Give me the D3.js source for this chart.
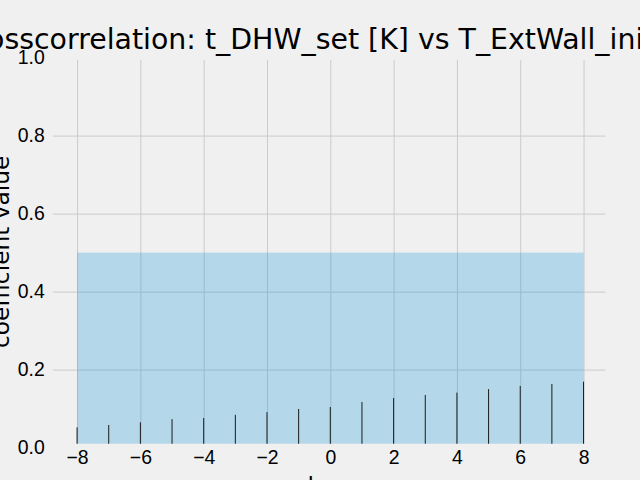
<!DOCTYPE html>
<html lang="en">
<head>
    <meta charset="UTF-8">
    <title>Crosscorrelation</title>
    <style>
        body {
            margin: 0;
            background: #f0f0f0;
            overflow: hidden;
        }
        svg {
            display: block;
            font-family: "DejaVu Sans", sans-serif;
        }
        .grid line {
            stroke: #cbcbcb;
            stroke-width: 1;
        }
        .grid path, .axis path, .axis line {
            display: none;
        }
        .axis text {
            font-size: 19.4px;
            fill: #000;
        }
    </style>
</head>
<body>
    <div class="chart"></div>
    <script src="https://d3js.org/d3.v7.min.js"></script>
    <script>
        // lag and coefficient
        const lags = [-8, -7, -6, -5, -4, -3, -2, -1, 0, 1, 2, 3, 4, 5, 6, 7, 8];
        const coeffs = [0.052, 0.058, 0.065, 0.073, 0.076, 0.084, 0.091, 0.099, 0.104,
                        0.117, 0.127, 0.135, 0.141, 0.150, 0.158, 0.163, 0.169];
        // shaded band
        const bandLow = -0.5;
        const bandHigh = 0.5;
        const xTicks = [-8, -6, -4, -2, 0, 2, 4, 6, 8];
        const yTicks = [0.0, 0.2, 0.4, 0.6, 0.8, 1.0];
        const xView = [-8.77, 8.7];
        const yView = [0.01, 0.994];

        const titleText = "Crosscorrelation: t_DHW_set [K] vs T_ExtWall_init [K]";
        const xLabel = "lag";
        const yLabel = "coefficient value";

        const width = 640;
        const height = 480;

        const svg = d3.select(".chart").append("svg")
            .attr("width", width)
            .attr("height", height);

        svg.append("rect")
            .attr("width", width)
            .attr("height", height)
            .attr("fill", "#f0f0f0");

        const xScale = d3.scaleLinear().domain(xView).range([52.7, 605.7]);
        const yScale = d3.scaleLinear().domain([0, 1]).range([447.6, 57.6]);

        const plotLeft = xScale(xView[0]);
        const plotRight = xScale(xView[1]);
        const plotTop = yScale(yView[1]);
        const plotBottom = yScale(yView[0]);

        svg.append("clipPath")
            .attr("id", "plot-clip")
            .append("rect")
            .attr("x", plotLeft)
            .attr("y", plotTop)
            .attr("width", plotRight - plotLeft)
            .attr("height", plotBottom - plotTop);

        const plot = svg.append("g").attr("clip-path", "url(#plot-clip)");

        // grid lines
        plot.append("g")
            .attr("class", "grid")
            .attr("transform", "translate(0," + plotBottom + ")")
            .call(d3.axisBottom(xScale).tickValues(xTicks).tickSize(-(plotBottom - plotTop)).tickFormat(""));

        plot.append("g")
            .attr("class", "grid")
            .attr("transform", "translate(" + plotLeft + ",0)")
            .call(d3.axisLeft(yScale).tickValues(yTicks).tickSize(-(plotRight - plotLeft)).tickFormat(""));

        // band
        plot.append("rect")
            .attr("x", xScale(lags[0]))
            .attr("y", yScale(bandHigh))
            .attr("width", xScale(lags[lags.length - 1]) - xScale(lags[0]))
            .attr("height", yScale(bandLow) - yScale(bandHigh))
            .attr("fill", "#008fd5")
            .attr("fill-opacity", 0.25);

        // stems
        plot.selectAll("line.stem")
            .data(coeffs)
            .enter()
            .append("line")
            .attr("class", "stem")
            .attr("x1", (d, i) => xScale(lags[i]))
            .attr("x2", (d, i) => xScale(lags[i]))
            .attr("y1", yScale(0))
            .attr("y2", d => yScale(d))
            .attr("stroke", "#1a1a1a")
            .attr("stroke-width", 1);

        // tick labels
        svg.append("g")
            .attr("class", "axis")
            .attr("transform", "translate(0," + plotBottom + ")")
            .call(d3.axisBottom(xScale).tickValues(xTicks).tickSize(0).tickPadding(7)
                .tickFormat(d => d3.format("d")(d).replace("-", "\u2212")));

        svg.append("g")
            .attr("class", "axis")
            .attr("transform", "translate(" + plotLeft + ",0)")
            .call(d3.axisLeft(yScale).tickValues(yTicks).tickSize(0).tickPadding(8)
                .tickFormat(d3.format(".1f")));

        // title and labels
        svg.append("text")
            .attr("x", (plotLeft + plotRight) / 2 + 1)
            .attr("y", 49)
            .attr("text-anchor", "middle")
            .attr("font-size", "28.4px")
            .attr("fill", "#000")
            .text(titleText);

        svg.append("text")
            .attr("x", (plotLeft + plotRight) / 2 - 4)
            .attr("y", 494)
            .attr("text-anchor", "middle")
            .attr("font-size", "23.3px")
            .attr("fill", "#000")
            .text(xLabel);

        svg.append("text")
            .attr("transform", "translate(9," + ((plotTop + plotBottom) / 2) + ") rotate(-90)")
            .attr("text-anchor", "middle")
            .attr("font-size", "23.3px")
            .attr("fill", "#000")
            .text(yLabel);
    </script>
</html>
